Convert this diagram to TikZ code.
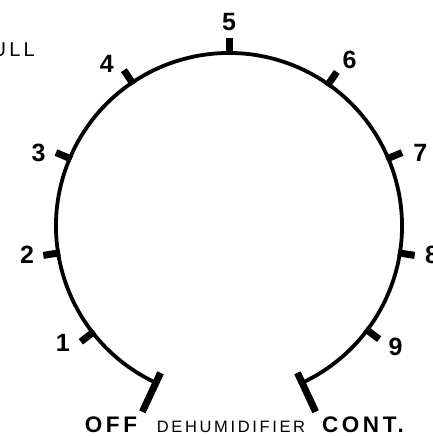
\documentclass[tikz,border=0pt]{standalone}
\usepackage{fontspec}
\setmainfont{Liberation Sans}
\newfontfamily\dialfont{Liberation Sans}[LetterSpace=16]
\tikzset{
  dialline/.style={line width=3.8pt},
  ticker/.style={line width=7pt},
  numlabel/.style={inner sep=0pt, font=\fontsize{25}{25}\selectfont\bfseries},
  endlabel/.style={inner sep=0pt, anchor=base, font=\fontsize{22.5}{22.5}\dialfont\bfseries},
  namelabel/.style={inner sep=0pt, anchor=base, font=\fontsize{16.5}{16.5}\dialfont}
}
\begin{document}
\begin{tikzpicture}[x=1pt, y=1pt]
    \useasboundingbox (0,0) rectangle (432,436);

    \begin{scope}[shift={(229pt,210pt)}]
        \draw[dialline] (245:173pt) arc[start angle=245, end angle=-65, radius=173pt];

        \foreach \a/\num/\la/\lr in {90/5/90/204, 124/4/127/203, 157/3/159/204,
                                     189/2/188/204, 218/1/215/203, 55/6/54/205,
                                     23/7/21/205, -9/8/-8/205, -37/9/-36/206} {
            \draw[ticker] (\a:171pt) -- (\a:188pt);
            \node[numlabel] (n\num) at (\la:\lr pt) {\num};
        }

        \draw[ticker] (245:162pt) -- (245:205pt);
        \draw[ticker] (-65:162pt) -- (-65:205pt);
    \end{scope}

    \node[endlabel] (off) at (111,3) {OFF};
    \node[namelabel] (name) at (231,3) {DEHUMIDIFIER};
    \node[endlabel] (cont) at (363,3) {CONT.};
    \node[namelabel, font=\fontsize{20}{20}\dialfont, anchor=base east] (full) at (35,379) {FULL};
\end{tikzpicture}
\end{document}
